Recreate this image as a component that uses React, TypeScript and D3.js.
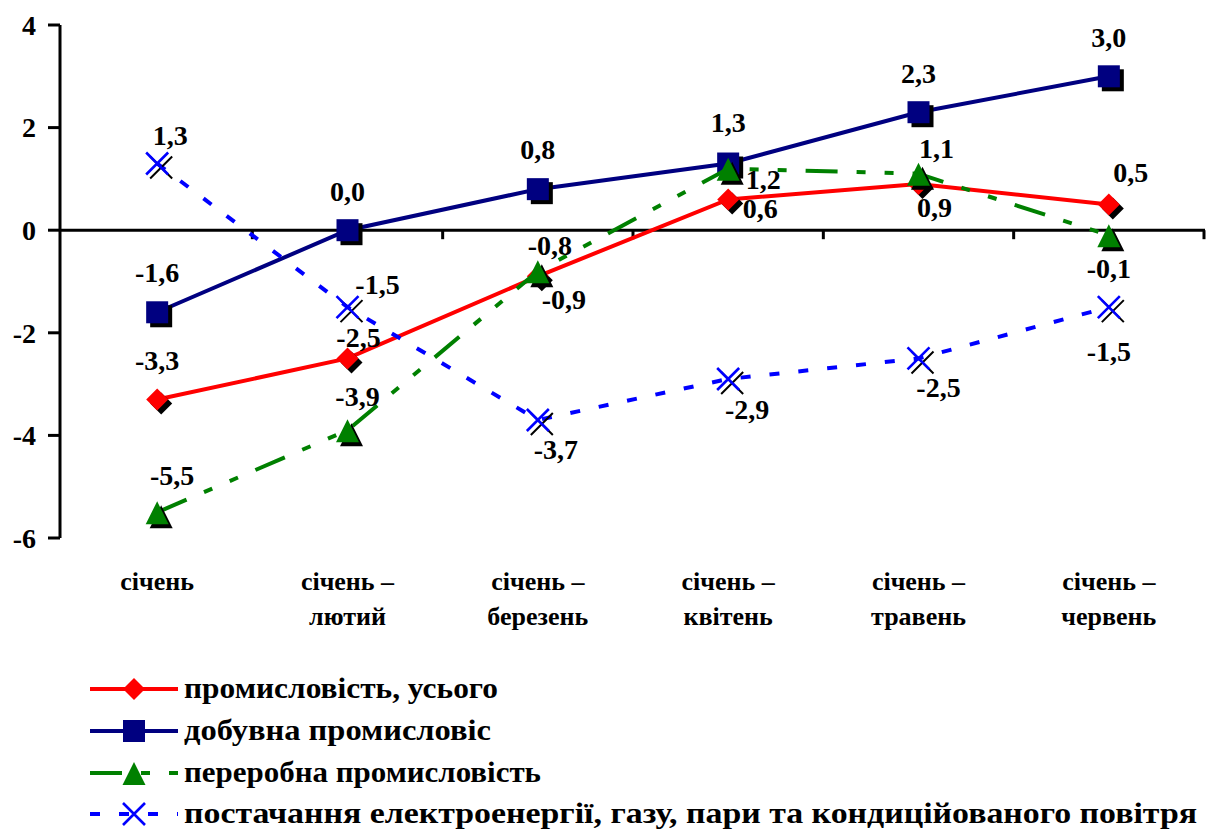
import React from "react";
import * as d3 from "d3";

const categories = [
  "січень",
  "січень – лютий",
  "січень – березень",
  "січень – квітень",
  "січень – травень",
  "січень – червень",
];

const totalIndustry = [-3.3, -2.5, -0.9, 0.6, 0.9, 0.5];
const mining = [-1.6, 0.0, 0.8, 1.3, 2.3, 3.0];
const manufacturing = [-5.5, -3.9, -0.8, 1.2, 1.1, -0.1];
const energySupply = [1.3, -1.5, -3.7, -2.9, -2.5, -1.5];

const seriesNames = [
  "промисловість, усього",
  "добувна промисловіс",
  "переробна промисловість",
  "постачання електроенергії, газу, пари та кондиційованого повітря",
];

const yTicks = [-6, -4, -2, 0, 2, 4];

// layout: label offsets (px) relative to the point
const labelOffsets: [number, number][][] = [
  [[0, -39], [11, -21], [26, 23], [32, 9], [16, 23], [22, -32]],
  [[0, -40], [0, -39], [0, -40], [0, -41], [0, -39], [0, -39]],
  [[15, -37], [10, -34], [12, -26], [35, 11], [18, -26], [0, 33]],
  [[13, -28], [30, -23], [18, 29], [19, 30], [20, 29], [0, 44]],
];

const styles = [
  { color: "#FF0000", dash: "none", marker: "diamond" },
  { color: "#000080", dash: "none", marker: "square" },
  { color: "#008000", dash: "32,19,9,19,9,19", marker: "triangle" },
  { color: "#0000FF", dash: "10,19", marker: "x" },
];

// layout: legend text widths
const legendTextWidths = [314, 307, 357, 1013];

const FONT = "Liberation Serif, Times New Roman, Times, serif";

function Marker({ type, x, y, color, shadow }: { type: string; x: number; y: number; color: string; shadow?: boolean }) {
  const r = 11;
  const fill = shadow ? "#000" : color;
  if (type === "diamond") {
    return <path d={`M${x},${y - r}L${x + r},${y}L${x},${y + r}L${x - r},${y}Z`} fill={fill} />;
  }
  if (type === "square") {
    return <rect x={x - r} y={y - r} width={2 * r} height={2 * r} fill={fill} />;
  }
  if (type === "triangle") {
    return <path d={`M${x},${y - 11}L${x + 11.5},${y + 12}L${x - 11.5},${y + 12}Z`} fill={fill} />;
  }
  return (
    <path
      d={`M${x - r},${y - r}L${x + r},${y + r}M${x - r},${y + r}L${x + r},${y - r}`}
      stroke={fill}
      strokeWidth={shadow ? 2 : 2.6}
      fill="none"
    />
  );
}

export default function App() {
  const W = 1207;
  const H = 830;
  const x = d3.scaleBand<string>().domain(categories).range([62, 1204]);
  const y = d3.scaleLinear().domain([-6, 4]).range([538, 25]);
  const cx = (c: string) => (x(c) as number) + x.bandwidth() / 2;
  const allSeries = [totalIndustry, mining, manufacturing, energySupply];
  const fmt = (v: number) => d3.format(".1f")(v).replace(".", ",").replace("−", "-");
  const line = d3
    .line<number>()
    .x((_, i) => cx(categories[i]))
    .y((d) => y(d));

  const x0 = 60;
  const bandEdges = categories.map((c) => (x(c) as number) + x.bandwidth());

  const legendRows = [689, 731, 773, 814];
  const textStyle = { fontFamily: FONT, fontWeight: 700 } as React.CSSProperties;

  return (
    <svg width={W} height={H} style={{ position: "absolute", left: 0, top: 0, background: "#fff" }}>
      {/* y axis */}
      <line x1={x0} x2={x0} y1={y(4)} y2={y(-6)} stroke="#000" strokeWidth={3} />
      {yTicks.map((t) => (
        <g key={t}>
          <line x1={48} x2={x0} y1={y(t)} y2={y(t)} stroke="#000" strokeWidth={3} />
          <text x={36} y={y(t)} dy="0.35em" textAnchor="end" fontSize={28} style={textStyle}>
            {t}
          </text>
        </g>
      ))}
      {/* zero line */}
      <line x1={x0} x2={1205} y1={y(0)} y2={y(0)} stroke="#000" strokeWidth={3} />
      {bandEdges.map((e, i) => (
        <line key={i} x1={e} x2={e} y1={y(0)} y2={y(0) + 9} stroke="#000" strokeWidth={3} />
      ))}
      {/* category labels */}
      {categories.map((c) => {
        const parts = c.split(" – ");
        return (
          <text key={c} x={cx(c)} y={590} textAnchor="middle" fontSize={26} style={textStyle}>
            <tspan x={cx(c)}>{parts.length > 1 ? parts[0] + " –" : parts[0]}</tspan>
            {parts.length > 1 && (
              <tspan x={cx(c)} y={625}>
                {parts[1]}
              </tspan>
            )}
          </text>
        );
      })}
      {/* series */}
      {allSeries.map((s, si) => (
        <g key={si}>
          <path d={line(s) as string} fill="none" stroke={styles[si].color} strokeWidth={4} strokeDasharray={styles[si].dash} />
          {s.map((v, i) => (
            <g key={i}>
              <Marker type={styles[si].marker} x={cx(categories[i]) + 4} y={y(v) + 4} color={styles[si].color} shadow />
              <Marker type={styles[si].marker} x={cx(categories[i])} y={y(v)} color={styles[si].color} />
            </g>
          ))}
        </g>
      ))}
      {/* value labels */}
      {allSeries.map((s, si) =>
        s.map((v, i) => (
          <text
            key={`${si}-${i}`}
            x={cx(categories[i]) + labelOffsets[si][i][0]}
            y={y(v) + labelOffsets[si][i][1]}
            dy="0.35em"
            textAnchor="middle"
            fontSize={28}
            style={textStyle}
          >
            {fmt(v)}
          </text>
        ))
      )}
      {/* legend */}
      {seriesNames.map((n, si) => (
        <g key={n}>
          <line x1={90} x2={178} y1={legendRows[si]} y2={legendRows[si]} stroke={styles[si].color} strokeWidth={4} strokeDasharray={styles[si].dash} />
          <Marker type={styles[si].marker} x={134} y={legendRows[si]} color={styles[si].color} />
          <text
            x={184}
            y={legendRows[si] + 9}
            fontSize={29}
            textLength={legendTextWidths[si]}
            lengthAdjust="spacingAndGlyphs"
            style={textStyle}
          >
            {n}
          </text>
        </g>
      ))}
    </svg>
  );
}
